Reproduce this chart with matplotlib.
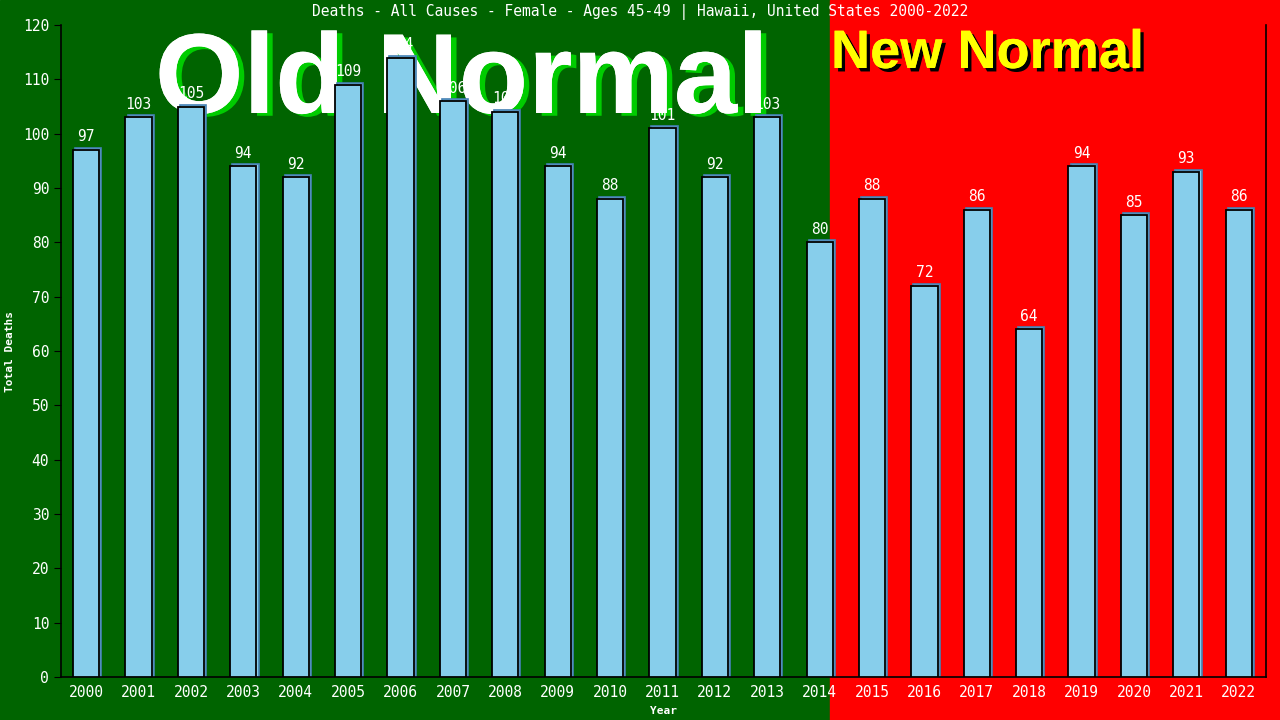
import matplotlib
matplotlib.use('Agg')
import matplotlib.pyplot as plt
import matplotlib.patheffects as pe
from matplotlib.patches import Rectangle

# data
years = [str(y) for y in range(2000, 2023)]
deaths = [97, 103, 105, 94, 92, 109, 114, 106, 104, 94, 88, 101,
          92, 103, 80, 88, 72, 86, 64, 94, 85, 93, 86]
yticks = list(range(0, 121, 10))
title = 'Deaths - All Causes - Female - Ages 45-49 | Hawaii, United States 2000-2022'

mono = 'DejaVu Sans Mono'

fig = plt.figure(figsize=(12.8, 7.2), dpi=100)
# background split: old normal (green) / new normal (red)
split = 830 / 1280
fig.patches.append(Rectangle((0, 0), split, 1, transform=fig.transFigure,
                             color='#006400', zorder=-10))
fig.patches.append(Rectangle((split, 0), 1 - split, 1, transform=fig.transFigure,
                             color='#ff0000', zorder=-10))

ax = fig.add_axes([61 / 1280, 43 / 720, 1205 / 1280, 652 / 720])
ax.set_facecolor('none')

x = list(range(len(years)))
# thin steel-blue outline behind each bar
ax.bar([i + 0.04 for i in x], [d + 0.35 for d in deaths], width=0.5,
       color='#87CEEB', edgecolor='#4682B4', linewidth=1.2, zorder=2)
ax.bar(x, deaths, width=0.5, color='#87CEEB', edgecolor='black',
       linewidth=1.3, zorder=3)

for i, d in zip(x, deaths):
    ax.annotate(str(d), (i, d), xytext=(0, 4), textcoords='offset points',
                ha='center', va='bottom', color='white', fontsize=10.5,
                family=mono, zorder=4)

ax.set_xlim(-0.48, 22.52)
ax.set_ylim(0, 120)
ax.set_xticks(x)
ax.set_xticklabels(years)
ax.set_yticks(yticks)
ax.tick_params(colors='black', labelcolor='white', labelsize=10.5, length=5)
for lab in ax.get_xticklabels() + ax.get_yticklabels():
    lab.set_family(mono)
ax.tick_params(axis='x', length=0, pad=6)

for s in ['left', 'bottom', 'right']:
    ax.spines[s].set_color('black')
    ax.spines[s].set_linewidth(1.2)
ax.spines['top'].set_visible(False)

ax.set_xlabel('Year', color='white', fontsize=8, fontweight='bold',
              family=mono, labelpad=4)
ax.set_ylabel('Total Deaths', color='white', fontsize=8, fontweight='bold',
              family=mono, labelpad=6)

fig.text(0.5, 1 - 12 / 720, title, ha='center', va='center', color='white',
         fontsize=10.5, family=mono)

# big overlay words, drawn inside the axes so the bars sit on top of them
ax.text(462 / 1280, 1 - 113 / 720, 'Old Normal', ha='center', va='baseline',
        transform=fig.transFigure, clip_on=False,
        color='white', fontsize=82, fontweight='bold',
        family='Liberation Sans', zorder=1,
        path_effects=[pe.withSimplePatchShadow(offset=(4, -2), shadow_rgbFace='#00cc00', alpha=1),
                      pe.Normal()])
ax.text(831 / 1280, 1 - 68 / 720, 'New Normal', ha='left', va='baseline',
        transform=fig.transFigure, clip_on=False,
        color='#ffff00', fontsize=39, fontweight='bold',
        family='Liberation Sans', zorder=1,
        path_effects=[pe.withSimplePatchShadow(offset=(2.5, -2.5), shadow_rgbFace='black', alpha=1),
                      pe.Normal()])

fig.savefig('out.png', dpi=100)
